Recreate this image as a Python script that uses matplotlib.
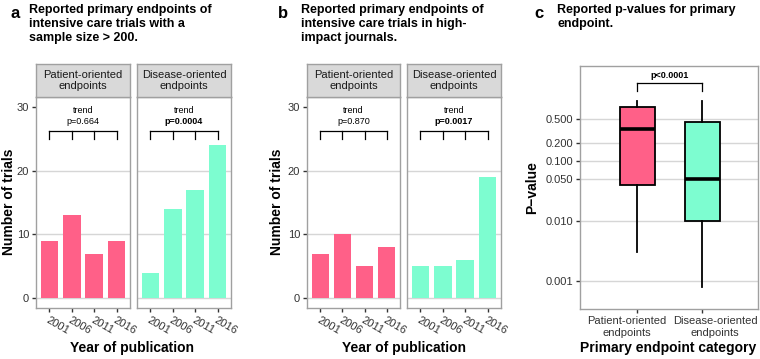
import matplotlib
matplotlib.use('Agg')
import matplotlib.pyplot as plt
import matplotlib.transforms as mtransforms
import numpy as np

plt.rcParams['font.family'] = ['Liberation Sans', 'DejaVu Sans']

# ---------------- data ----------------
years = ['2001', '2006', '2011', '2016']
facet_labels = ['Patient-oriented\nendpoints', 'Disease-oriented\nendpoints']
a_patient = [9, 13, 7, 9]
a_disease = [4, 14, 17, 24]
b_patient = [7, 10, 5, 8]
b_disease = [5, 5, 6, 19]
a_pvals = ['p=0.664', 'p=0.0004']
b_pvals = ['p=0.870', 'p=0.0017']
pval_bold = [False, True]
count_ticks = [0, 10, 20, 30]

c_categories = ['Patient-oriented\nendpoints', 'Disease-oriented\nendpoints']
c_whislo = [0.003, 0.0008]
c_q1 = [0.04, 0.01]
c_med = [0.34, 0.049]
c_q3 = [0.78, 0.45]
c_whishi = [1.0, 1.0]
c_pval = 'p<0.0001'
p_ticks = [0.001, 0.010, 0.050, 0.100, 0.200, 0.500]

PINK = '#FF6088'
MINT = '#7DFDD0'
GRID = '#D6D6D6'
BORDER = '#A0A0A0'
TICKC = '#333333'

W, H = 760, 359
fig = plt.figure(figsize=(W / 100, H / 100), dpi=100)


def ax_px(x0, y0, x1, y1):
    return fig.add_axes([x0 / W, 1 - y1 / H, (x1 - x0) / W, (y1 - y0) / H])


def fig_text(x, y, s, **kw):
    fig.text(x / W, 1 - y / H, s, **kw)


def facet(x0, x1, vals, color, label, pval, bold, show_y):
    ax = ax_px(x0, 97, x1, 308)
    x = np.arange(1, len(years) + 1)
    for g in count_ticks[:-1]:
        ax.axhline(g, color=GRID, lw=1, zorder=0)
    ax.bar(x, vals, width=0.78, color=color, zorder=2)
    ax.set_xlim(0.4, 4.6)
    ax.set_ylim(-1.5, 31.5)
    ax.set_xticks(x)
    ax.set_xticklabels(years, rotation=-30, ha='left', va='top',
                       rotation_mode='anchor', fontsize=8, color=TICKC)
    ax.set_yticks(count_ticks)
    if show_y:
        ax.set_yticklabels([str(t) for t in count_ticks], fontsize=8, color=TICKC)
        ax.tick_params(axis='y', length=3, color='#333333', width=1, pad=2)
    else:
        ax.tick_params(axis='y', length=0, labelleft=False)
    ax.tick_params(axis='x', length=3, color='#333333', width=1, pad=2)
    for s in ax.spines.values():
        s.set_color(BORDER)
        s.set_linewidth(1)
    # bracket
    ax.plot([x[0], x[-1]], [26.25, 26.25], color='black', lw=0.9, zorder=3)
    for xi in x:
        ax.plot([xi, xi], [25.0, 26.25], color='black', lw=0.9, zorder=3)
    ax.text(2.5, 29.4, 'trend', ha='center', va='center', fontsize=6.5)
    ax.text(2.5, 27.7, pval, ha='center', va='center', fontsize=6.5,
            fontweight='bold' if bold else 'normal')
    st = ax_px(x0, 64, x1, 97)
    st.set_facecolor('#D9D9D9')
    st.set_xticks([])
    st.set_yticks([])
    for s in st.spines.values():
        s.set_color(BORDER)
        s.set_linewidth(1)
    st.text(0.5, 0.5, label, ha='center', va='center', fontsize=8,
            color='#1A1A1A', transform=st.transAxes, linespacing=1.15)
    return ax


# ---------------- panel a ----------------
fig_text(15, 13, 'a', fontsize=12, fontweight='bold', ha='center', va='center')
fig_text(29, 4, 'Reported primary endpoints of\nintensive care trials with a\nsample size > 200.',
         fontsize=9, fontweight='bold', ha='left', va='top', linespacing=1.2)
facet(36, 130, a_patient, PINK, facet_labels[0], a_pvals[0], pval_bold[0], True)
facet(137, 231, a_disease, MINT, facet_labels[1], a_pvals[1], pval_bold[1], False)
fig_text(9, 202, 'Number of trials', rotation=90, fontsize=10, fontweight='bold',
         ha='center', va='center')
fig_text(132, 348, 'Year of publication', fontsize=10, fontweight='bold',
         ha='center', va='center')

# ---------------- panel b ----------------
fig_text(283, 13, 'b', fontsize=12, fontweight='bold', ha='center', va='center')
fig_text(301, 4, 'Reported primary endpoints of\nintensive care trials in high-\nimpact journals.',
         fontsize=9, fontweight='bold', ha='left', va='top', linespacing=1.2)
facet(307, 400, b_patient, PINK, facet_labels[0], b_pvals[0], pval_bold[0], True)
facet(407, 501, b_disease, MINT, facet_labels[1], b_pvals[1], pval_bold[1], False)
fig_text(277, 202, 'Number of trials', rotation=90, fontsize=10, fontweight='bold',
         ha='center', va='center')
fig_text(404, 348, 'Year of publication', fontsize=10, fontweight='bold',
         ha='center', va='center')

# ---------------- panel c ----------------
fig_text(539, 13, 'c', fontsize=12, fontweight='bold', ha='center', va='center')
fig_text(557, 4, 'Reported p-values for primary\nendpoint.',
         fontsize=9, fontweight='bold', ha='left', va='top', linespacing=1.2)
axc = ax_px(580, 66, 758, 309)
axc.set_yscale('log')
stats = []
for i in range(len(c_categories)):
    stats.append(dict(whislo=c_whislo[i], q1=c_q1[i], med=c_med[i],
                      q3=c_q3[i], whishi=c_whishi[i], label=c_categories[i]))
for t in p_ticks:
    axc.axhline(t, color=GRID, lw=1, zorder=0)
bp = axc.bxp(stats, positions=[1, 2], widths=0.54, showfliers=False,
             showcaps=False, patch_artist=True,
             boxprops=dict(linewidth=1.3, edgecolor='black'),
             medianprops=dict(color='black', linewidth=2.6),
             whiskerprops=dict(color='black', linewidth=1.3), zorder=2)
for patch, col in zip(bp['boxes'], [PINK, MINT]):
    patch.set_facecolor(col)
axc.set_xlim(0.12, 2.86)
axc.set_ylim(10 ** -3.47, 10 ** 0.58)
axc.set_yticks(p_ticks)
axc.set_yticklabels(['%.3f' % t for t in p_ticks], fontsize=8, color=TICKC)
axc.yaxis.set_minor_locator(matplotlib.ticker.NullLocator())
axc.set_xticks([1, 2])
axc.set_xticklabels(c_categories, fontsize=8, color=TICKC, linespacing=1.2)
axc.tick_params(axis='both', length=3, color='#333333', width=1, pad=2)
# nudge the two category labels apart (as in the reference)
for lab, dx in zip(axc.get_xticklabels(), [-10, 13]):
    lab.set_transform(lab.get_transform() +
                      mtransforms.ScaledTranslation(dx / 100, 0, fig.dpi_scale_trans))
for s in axc.spines.values():
    s.set_color(BORDER)
    s.set_linewidth(1)
axc.plot([1, 2], [2.0, 2.0], color='black', lw=0.9)
axc.plot([1, 1], [1.47, 2.0], color='black', lw=0.9)
axc.plot([2, 2], [1.47, 2.0], color='black', lw=0.9)
axc.text(1.5, 2.6, c_pval, ha='center', va='center', fontsize=6.5, fontweight='bold')
fig_text(532, 188, 'P\u2212value', rotation=90, fontsize=10, fontweight='bold',
         ha='center', va='center')
fig_text(668, 348, 'Primary endpoint category', fontsize=10, fontweight='bold',
         ha='center', va='center')

fig.savefig('out.png', dpi=100)
